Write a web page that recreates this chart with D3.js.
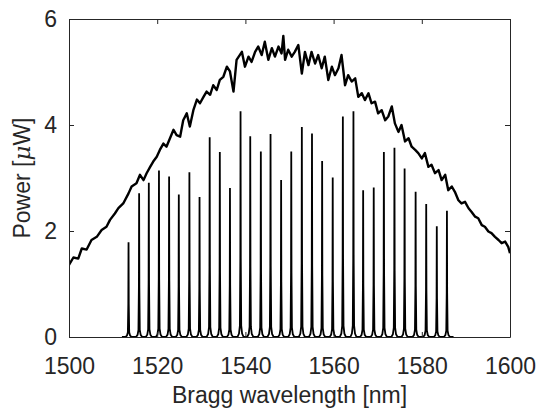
<!DOCTYPE html>
<html>
<head>
<meta charset="utf-8">
<script src="https://cdn.jsdelivr.net/npm/d3@7"></script>
<style>
  html, body { margin: 0; padding: 0; background: #fff; }
  svg { display: block; }
  text { font-family: "Liberation Sans", Arial, Helvetica, sans-serif; fill: #262626; }
</style>
</head>
<body>
<svg id="chart" width="537" height="412"></svg>
<script>
// ---- data ----
const xTicks = [1500, 1520, 1540, 1560, 1580, 1600];
const yTicks = [0, 2, 4, 6];
const xLabel = "Bragg wavelength [nm]";
const yLabelPrefix = "Power [";
const yLabelMu = "μ";
const yLabelSuffix = "W]";

// broadband (ASE) spectrum: wavelength [nm]
const aseWl = [1500.0,1501.0,1502.1,1502.9,1504.0,1505.1,1506.3,1507.4,1508.5,1509.3,1510.4,1511.2,1512.3,1513.5,1514.2,1515.3,1516.1,1516.9,1517.6,1518.4,1519.1,1519.9,1520.6,1521.4,1522.1,1522.9,1523.7,1524.4,1525.2,1525.9,1526.7,1527.4,1528.2,1529.0,1529.7,1530.5,1531.2,1532.0,1532.7,1533.5,1534.2,1535.0,1535.8,1536.5,1537.3,1538.0,1539.2,1539.9,1540.7,1541.4,1542.2,1542.9,1543.7,1544.4,1545.2,1546.0,1546.7,1547.5,1548.2,1548.6,1549.0,1549.7,1550.5,1551.2,1552.0,1552.8,1553.5,1554.3,1555.0,1555.8,1556.5,1557.3,1558.0,1558.8,1559.6,1560.3,1561.1,1561.8,1562.6,1563.3,1564.1,1564.9,1565.6,1566.4,1567.1,1567.9,1568.6,1569.4,1570.1,1570.9,1571.7,1572.4,1573.2,1573.9,1574.7,1575.4,1576.2,1577.0,1577.7,1578.5,1579.2,1580.0,1580.7,1581.5,1582.2,1583.0,1583.8,1584.5,1585.3,1586.0,1586.8,1587.5,1588.3,1589.0,1589.8,1590.6,1591.3,1592.1,1592.8,1593.6,1594.3,1595.1,1595.8,1596.6,1597.4,1598.1,1598.9,1599.6,1600.0];
// broadband spectrum: power [µW]
const asePower = [1.36,1.50,1.48,1.67,1.65,1.83,1.89,2.02,2.08,2.21,2.33,2.43,2.52,2.71,2.84,2.90,3.06,2.96,3.09,3.21,3.31,3.40,3.53,3.65,3.59,3.75,3.91,3.81,3.78,4.09,4.22,3.97,4.28,4.48,4.41,4.53,4.63,4.57,4.75,4.66,4.85,4.91,5.10,5.01,4.63,5.23,5.38,5.10,5.29,5.19,5.38,5.48,5.32,5.57,5.23,5.45,5.29,5.48,5.35,5.68,5.23,5.42,5.29,5.38,5.51,4.97,5.38,5.13,5.38,5.16,5.32,5.07,5.29,4.85,5.10,4.94,5.07,5.32,4.75,4.94,4.82,4.88,4.53,4.60,4.47,4.60,4.41,4.44,4.22,4.28,4.09,4.16,4.35,4.03,3.87,4.00,3.69,3.75,3.59,3.53,3.47,3.37,3.47,3.21,3.25,3.09,3.15,2.96,3.06,2.77,2.84,2.74,2.58,2.52,2.55,2.43,2.36,2.27,2.24,2.11,2.08,1.99,1.96,1.89,1.83,1.77,1.80,1.70,1.58];

// FBG reflection peaks: center wavelength [nm] and peak power [µW]
const peakWl = [1513.5,1515.9,1518.1,1520.4,1522.7,1524.9,1527.3,1529.6,1531.9,1534.2,1536.5,1538.9,1541.1,1543.5,1545.7,1548.1,1550.4,1552.8,1555.1,1557.4,1559.8,1562.1,1564.5,1566.7,1569.1,1571.4,1573.8,1576.1,1578.6,1581.0,1583.4,1585.7];
const peakPower = [1.79,2.71,2.91,3.14,3.03,2.69,3.11,2.64,3.77,3.49,2.81,4.26,3.79,3.50,3.83,2.96,3.50,3.96,3.84,3.32,3.01,4.16,4.26,2.77,2.82,3.49,3.57,3.18,2.74,2.51,2.09,2.38];

// ---- layout ----
const W = 537, H = 412;
const m = { left: 69, right: 27, top: 19, bottom: 75 };
const iw = W - m.left - m.right, ih = H - m.top - m.bottom;
const FS = 23;
const ink = "#262626";

const svg = d3.select("#chart");
const g = svg.append("g").attr("transform", `translate(${m.left},${m.top})`);

const x = d3.scaleLinear().domain([1500, 1600]).range([0, iw]);
const y = d3.scaleLinear().domain([0, 6]).range([ih, 0]);

svg.append("defs").append("clipPath").attr("id", "clip")
  .append("rect").attr("x", 0).attr("y", -2).attr("width", iw).attr("height", ih + 2);

const plot = g.append("g").attr("clip-path", "url(#clip)");

// peaks: narrow line shape around each centre (shape template is style)
const shapeDx = [-0.7, -0.35, -0.15, -0.05, 0, 0.05, 0.15, 0.35, 0.7];
const shapeFr = [0, 0.015, 0.05, 0.35, 1, 0.35, 0.05, 0.015, 0];
const peakPts = [];
peakPts.push([peakWl[0] - 1.5, 0]);
peakWl.forEach((c, i) => {
  shapeDx.forEach((d, k) => peakPts.push([c + d, peakPower[i] * shapeFr[k]]));
});
peakPts.push([peakWl[peakWl.length - 1] + 1.5, 0]);

const line = d3.line().x(d => x(d[0])).y(d => y(d[1]));

plot.append("path")
  .datum(peakPts)
  .attr("d", line)
  .attr("fill", "none")
  .attr("stroke", "#000")
  .attr("stroke-width", 1.8)
  .attr("stroke-linejoin", "miter");

plot.append("path")
  .datum(aseWl.map((w, i) => [w, asePower[i]]))
  .attr("d", line)
  .attr("fill", "none")
  .attr("stroke", "#000")
  .attr("stroke-width", 2.4)
  .attr("stroke-linejoin", "round");

// ---- axes (box with inward ticks) ----
const tl = 5;
const axB = g.append("g").attr("transform", `translate(0,${ih})`)
  .call(d3.axisBottom(x).tickValues(xTicks).tickSizeInner(-tl).tickSizeOuter(0).tickPadding(21).tickFormat(d3.format("d")));
const axT = g.append("g")
  .call(d3.axisTop(x).tickValues(xTicks).tickSizeInner(-tl).tickSizeOuter(0).tickFormat(""));
const axL = g.append("g")
  .call(d3.axisLeft(y).tickValues(yTicks).tickSizeInner(-tl).tickSizeOuter(0).tickPadding(12).tickFormat(d3.format("d")));
const axR = g.append("g").attr("transform", `translate(${iw},0)`)
  .call(d3.axisRight(y).tickValues(yTicks).tickSizeInner(-tl).tickSizeOuter(0).tickFormat(""));

[axB, axT, axL, axR].forEach(a => {
  a.selectAll(".domain").attr("stroke", ink).attr("stroke-width", 1);
  a.selectAll(".tick line").attr("stroke", ink).attr("stroke-width", 1);
  a.selectAll("text").attr("font-size", FS).attr("fill", ink)
    .attr("font-family", "'Liberation Sans', Arial, sans-serif");
});
axB.selectAll("text").attr("dy", "0.71em");

// labels
svg.append("text")
  .attr("x", m.left + iw / 2).attr("y", 403)
  .attr("text-anchor", "middle").attr("font-size", FS)
  .text(xLabel);

const yl = svg.append("text")
  .attr("transform", `translate(30,${m.top + ih / 2}) rotate(-90)`)
  .attr("text-anchor", "middle").attr("font-size", FS);
yl.append("tspan").text(yLabelPrefix);
yl.append("tspan").attr("font-style", "italic").attr("font-family", "'DejaVu Serif', 'Liberation Serif', serif").text(yLabelMu);
yl.append("tspan").text(yLabelSuffix);
</script>
</body>
</html>
